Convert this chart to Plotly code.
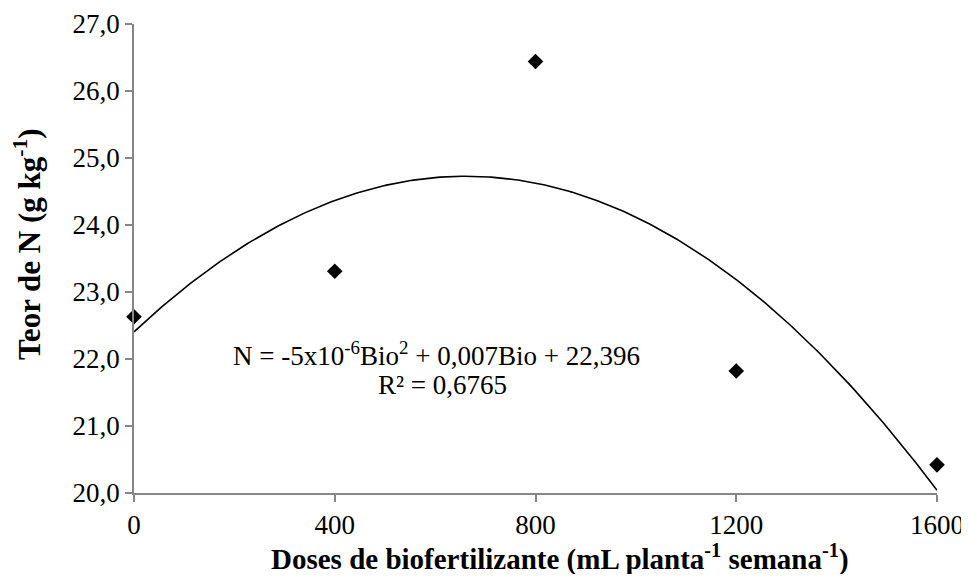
import numpy as np
import plotly.graph_objects as go

# Data
doses = [0, 400, 800, 1200, 1600]
teor_n = [22.63, 23.31, 26.44, 21.82, 20.42]
x_ticks = [0, 400, 800, 1200, 1600]
x_ticktext = ["0", "400", "800", "1200", "1600"]
y_ticks = [20, 21, 22, 23, 24, 25, 26, 27]
y_ticktext = ["20,0", "21,0", "22,0", "23,0", "24,0", "25,0", "26,0", "27,0"]
equation = "N = -5x10<sup>-6</sup>Bio<sup>2</sup> + 0,007Bio + 22,396"
r2_text = "R² = 0,6765"
x_title = "<b>Doses de biofertilizante (mL planta<sup>-1</sup> semana<sup>-1</sup>)</b>"
y_title = "<b>Teor de N (g kg<sup>-1</sup>)</b>"

# Polynomial (order 2) trendline fitted to the data
coef = np.polyfit(doses, teor_n, 2)
xs = np.linspace(min(doses), max(doses), 300)
ys = np.polyval(coef, xs)

FONT = "Liberation Serif, Times New Roman, serif"
AXC = "#868686"

fig = go.Figure()
fig.add_trace(go.Scatter(x=xs, y=ys, mode="lines",
                         line=dict(color="black", width=1.6),
                         hoverinfo="skip", showlegend=False, cliponaxis=False))
fig.add_trace(go.Scatter(x=doses, y=teor_n, mode="markers",
                         marker=dict(symbol="diamond", size=12, color="black"),
                         showlegend=False, cliponaxis=False))

fig.add_annotation(x=602, y=22.07, xref="x", yref="y", text=equation,
                   showarrow=False, font=dict(family=FONT, size=27, color="black"),
                   xanchor="center", yanchor="middle")
fig.add_annotation(x=614, y=21.61, xref="x", yref="y", text=r2_text,
                   showarrow=False, font=dict(family=FONT, size=27, color="black"),
                   xanchor="center", yanchor="middle")

# Axis titles
fig.add_annotation(x=0.5305, y=-0.1365, xref="paper", yref="paper", text=x_title,
                   showarrow=False, font=dict(family=FONT, size=29, color="black"),
                   xanchor="center", yanchor="middle")
fig.add_annotation(x=-0.132, y=0.531, xref="paper", yref="paper", text=y_title,
                   showarrow=False, textangle=-90,
                   font=dict(family=FONT, size=31, color="black"),
                   xanchor="center", yanchor="middle")

# page body has an 8px margin, so the figure is sized/offset to compensate
fig.update_layout(
    width=961, height=566,
    margin=dict(l=126, r=32, t=16, b=81),
    paper_bgcolor="white", plot_bgcolor="white",
    separators=",.",
    font=dict(family=FONT, color="black"),
    xaxis=dict(range=[0, 1600], tickvals=x_ticks, ticktext=x_ticktext,
               showgrid=False, zeroline=False, showline=True, automargin=False,
               linecolor=AXC, linewidth=1.5, ticks="outside", ticklen=7,
               tickcolor=AXC, tickwidth=1.5,
               tickfont=dict(family=FONT, size=27, color="black")),
    yaxis=dict(range=[20, 27], tickvals=y_ticks, ticktext=y_ticktext,
               showgrid=False, zeroline=False, showline=True, automargin=False,
               linecolor=AXC, linewidth=1.5, ticks="outside", ticklen=7,
               tickcolor=AXC, tickwidth=1.5,
               tickfont=dict(family=FONT, size=27, color="black")),
)

fig.write_html("out.html")
